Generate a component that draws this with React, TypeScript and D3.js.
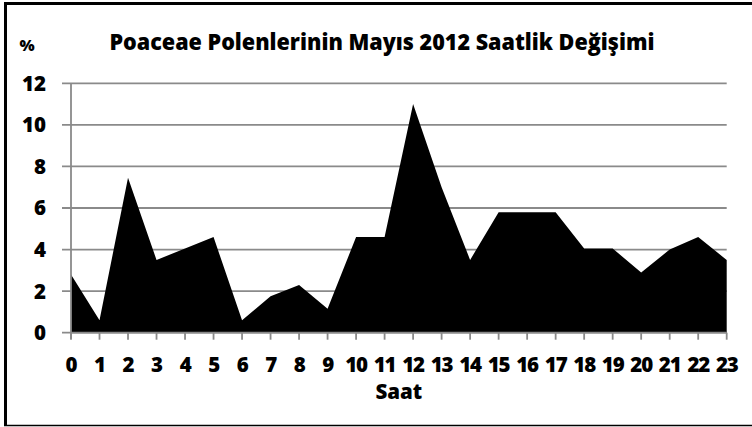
import React from "react";
import * as d3 from "d3";

const hours: string[] = [
  "0", "1", "2", "3", "4", "5", "6", "7", "8", "9", "10", "11",
  "12", "13", "14", "15", "16", "17", "18", "19", "20", "21", "22", "23",
];
const percents: number[] = [
  2.8, 0.6, 7.45, 3.5, 4.05, 4.6, 0.6, 1.75, 2.3, 1.15, 4.6, 4.6,
  11.0, 7.0, 3.5, 5.8, 5.8, 5.8, 4.05, 4.05, 2.9, 4.0, 4.6, 3.5,
];
const yTicks: number[] = [0, 2, 4, 6, 8, 10, 12];
const title = "Poaceae Polenlerinin Mayıs 2012 Saatlik Değişimi";
const xTitle = "Saat";
const yUnit = "%";

const W = 752;
const H = 427;
const left = 71;
const right = 726.7;
const top = 83.3;
const bottom = 332.7;
const FONT = "'Open Sans', Lato, sans-serif";
const GRID = "#8a8a8a";
const WEIGHT = 800;

export default function App() {
  const x = d3.scalePoint<string>().domain(hours).range([left, right]);
  const y = d3.scaleLinear().domain([0, 12]).range([bottom, top]);

  const data = hours.map((h, i) => ({ h, v: percents[i] }));
  const area = d3
    .area<{ h: string; v: number }>()
    .x((d) => x(d.h) as number)
    .y0(y(0))
    .y1((d) => y(d.v));

  return (
    <svg
      width={W}
      height={H}
      style={{ position: "absolute", left: 0, top: 0, background: "#fff" }}
      fontFamily={FONT}
    >
      {/* chart frame */}
      <line x1={5.5} x2={W} y1={3.5} y2={3.5} stroke="#000" strokeWidth={3} />
      <line x1={5.5} x2={5.5} y1={2} y2={426} stroke="#000" strokeWidth={3} />
      <line x1={4} x2={W} y1={425.5} y2={425.5} stroke="#000" strokeWidth={1.5} />

      {/* title and unit */}
      <text
        x={382}
        y={50}
        textAnchor="middle"
        fontSize={23}
        fontWeight={WEIGHT}
        textLength={545}
        lengthAdjust="spacingAndGlyphs"
      >
        {title}
      </text>
      <text x={27} y={51} textAnchor="middle" fontSize={16} fontWeight={WEIGHT}>
        {yUnit}
      </text>

      {/* horizontal gridlines with y ticks */}
      {yTicks.map((t) => (
        <g key={t}>
          <line
            x1={left - 9}
            x2={right}
            y1={y(t)}
            y2={y(t)}
            stroke={GRID}
            strokeWidth={1.8}
          />
          <text
            x={46}
            y={y(t)}
            dy="0.36em"
            textAnchor="end"
            fontSize={20.5}
            fontWeight={WEIGHT}
          >
            {t}
          </text>
        </g>
      ))}

      {/* area series */}
      <path d={area(data) ?? ""} fill="#000" />

      {/* axes */}
      <line x1={left} x2={left} y1={top} y2={bottom + 6} stroke={GRID} strokeWidth={1.8} />
      <line x1={left} x2={right} y1={bottom} y2={bottom} stroke={GRID} strokeWidth={1.8} />
      {hours.map((h) => (
        <g key={h}>
          <line
            x1={x(h)}
            x2={x(h)}
            y1={bottom}
            y2={bottom + 7}
            stroke={GRID}
            strokeWidth={1.8}
          />
          <text
            x={x(h)}
            y={372}
            textAnchor="middle"
            fontSize={20.5}
            fontWeight={WEIGHT}
            letterSpacing={-1.2}
          >
            {h}
          </text>
        </g>
      ))}
      <text
        x={(left + right) / 2}
        y={398.5}
        textAnchor="middle"
        fontSize={20.5}
        fontWeight={WEIGHT}
      >
        {xTitle}
      </text>
    </svg>
  );
}
